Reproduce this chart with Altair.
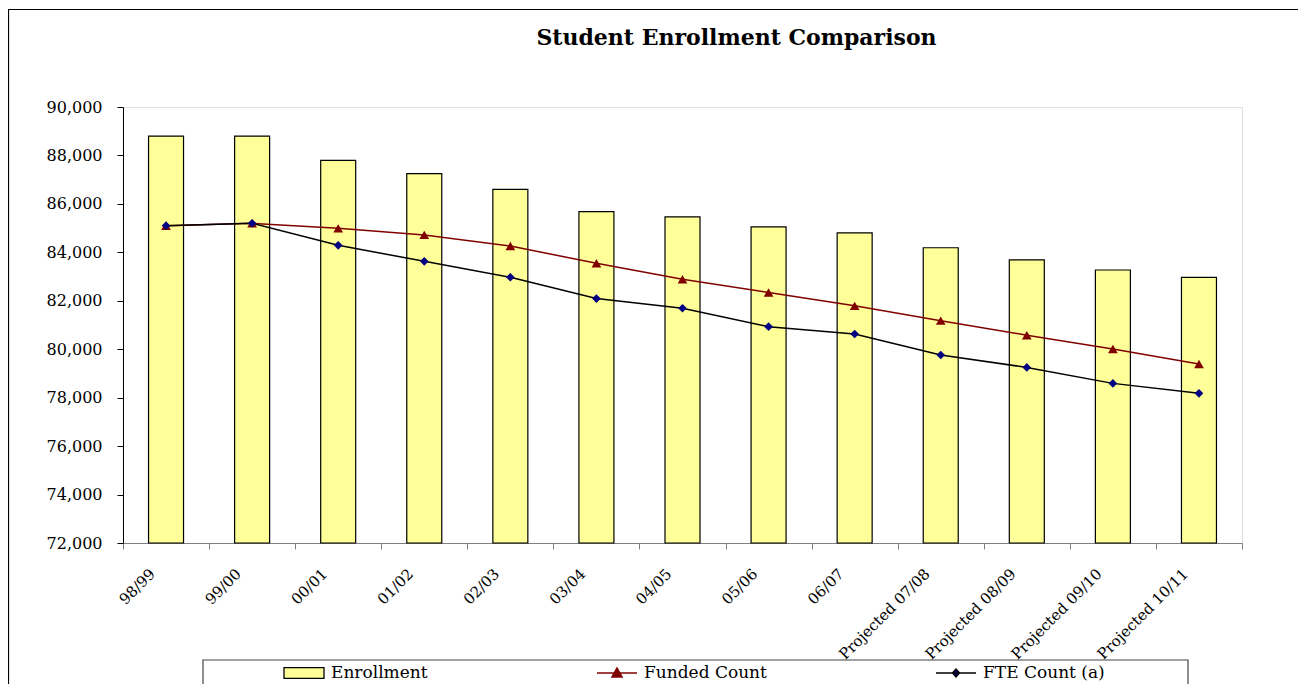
import altair as alt
import pandas as pd

years = ["98/99", "99/00", "00/01", "01/02", "02/03", "03/04", "04/05", "05/06", "06/07",
         "Projected 07/08", "Projected 08/09", "Projected 09/10", "Projected 10/11"]
enrollment = [88800, 88800, 87800, 87250, 86600, 85680, 85460, 85050, 84800, 84190, 83690, 83270, 82970]
funded = [85100, 85200, 84990, 84720, 84260, 83550, 82890, 82340, 81790, 81180, 80580, 80010, 79390]
fte = [85100, 85200, 84290, 83630, 82970, 82090, 81690, 80930, 80630, 79760, 79250, 78590, 78180]
series_names = ["Enrollment", "Funded Count", "FTE Count (a)"]
y_ticks = [72000, 74000, 76000, 78000, 80000, 82000, 84000, 86000, 88000, 90000]

bar_df = pd.DataFrame({"year": years, "value": enrollment, "series": series_names[0]})
line_df = pd.concat([
    pd.DataFrame({"year": years, "value": funded, "series": series_names[1]}),
    pd.DataFrame({"year": years, "value": fte, "series": series_names[2]}),
], ignore_index=True)

FONT = "DejaVu Serif"

x_enc = alt.X("year:N", sort=years,
              scale=alt.Scale(domain=years, paddingInner=0, paddingOuter=0),
              axis=alt.Axis(title=None, labelAngle=-45, labelAlign="right", labelBaseline="top",
                            labelOffset=-19, labelPadding=17,
                            tickBand="extent", tickSize=6,
                            tickColor="#808080", domainColor="#808080",
                            labelFontSize=15, labelFont=FONT, labelColor="black"))
y_enc = alt.Y("value:Q", scale=alt.Scale(domain=[72000, 90000], nice=False, zero=False),
              axis=alt.Axis(title=None, values=y_ticks, format=",.0f", grid=False, tickSize=6,
                            tickColor="black", domainColor="black", labelPadding=15,
                            labelFontSize=16, labelFont=FONT, labelColor="black"))

color_scale = alt.Scale(domain=series_names, range=["#FFFF99", "#800000", "#000080"])

shape_expr = ("datum.value == 'Enrollment' ? 'M-1,-0.27H1V0.27H-1Z' : "
              "datum.value == 'Funded Count' ? 'M-1,0H1M0,-0.26L0.26,0.2H-0.26Z' : "
              "'M-1,0H1M0,-0.2L0.18,0L0,0.2L-0.18,0Z'")
stroke_expr = ("datum.value == 'Enrollment' ? '#000000' : "
               "datum.value == 'Funded Count' ? '#800000' : '#000000'")

legend = alt.Legend(
    title=None, orient="none", legendX=160, legendY=545, direction="horizontal",
    columnPadding=166, gridAlign="none", padding=0, symbolSize=1600,
    labelFont=FONT, labelFontSize=17, labelColor="black", labelOffset=6,
    symbolType={"expr": shape_expr}, symbolStrokeColor={"expr": stroke_expr},
    symbolStrokeWidth=1.3, symbolOpacity=1,
)

bars = alt.Chart(bar_df).mark_bar(size=35, stroke="black", strokeWidth=1.2).encode(
    x=x_enc, y=y_enc, y2=alt.datum(72000),
    color=alt.Color("series:N", scale=color_scale, legend=legend),
)

lines = alt.Chart(line_df).mark_line(strokeWidth=1.5).encode(
    x=x_enc, y=y_enc,
    stroke=alt.Stroke("series:N", scale=alt.Scale(domain=series_names[1:], range=["#800000", "#000000"]),
                      legend=None),
)

points = alt.Chart(line_df).mark_point(filled=True, opacity=1).encode(
    x=x_enc, y=y_enc,
    color=alt.Color("series:N", scale=color_scale, legend=legend),
    shape=alt.Shape("series:N", scale=alt.Scale(domain=series_names[1:], range=["triangle-up", "diamond"]),
                    legend=None),
    size=alt.Size("series:N", scale=alt.Scale(domain=series_names[1:], range=[95, 75]), legend=None),
)

one = alt.Data(values=[{"k": 1}])
outer_border = alt.Chart(one).mark_rect(fillOpacity=0, stroke="black", strokeWidth=1.2).encode(
    x=alt.value(-114.5), x2=alt.value(1600), y=alt.value(-97.5), y2=alt.value(1000))
legend_box = alt.Chart(one).mark_rect(fillOpacity=0, stroke="#444444", strokeWidth=1.2).encode(
    x=alt.value(80), x2=alt.value(1065), y=alt.value(553), y2=alt.value(700))

chart = alt.layer(outer_border, legend_box, bars, lines, points).properties(
    width=1119, height=436,
    autosize=alt.AutoSizeParams(type="none"),
    padding={"left": 115, "top": 99, "right": 56, "bottom": 141},
    title=alt.TitleParams("Student Enrollment Comparison", font=FONT, fontSize=22,
                          fontWeight="bold", anchor="middle", dx=54, offset=-58,
                          baseline="alphabetic", color="black"),
).configure_view(stroke="#888888", strokeWidth=1.2).configure(background="white")

chart.save("out.html", embed_options={"renderer": "svg", "actions": False})
